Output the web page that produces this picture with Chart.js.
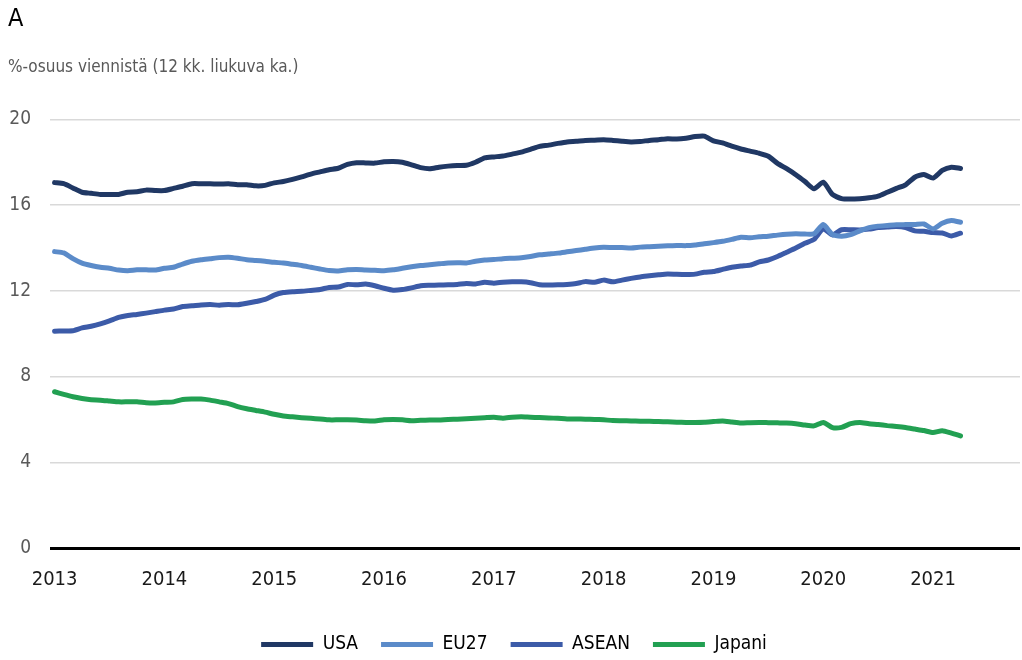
<!DOCTYPE html>
<html>
<head>
<meta charset="utf-8">
<script src="https://cdn.jsdelivr.net/npm/chart.js@4.4.0/dist/chart.umd.min.js"></script>
<style>
  body { margin: 0; background: #fff; }
  #wrap { width: 1022px; height: 660px; position: relative; }
</style>
</head>
<body>
<div id="wrap"><canvas id="chart"></canvas></div>
<script>
// months 2013-01 .. 2021-10 (axis runs a bit past the data)
const months = [];
for (let y = 2013; y <= 2021; y++) {
  for (let m = 1; m <= 12; m++) {
    if (y === 2021 && m > 10) break;
    months.push(y + '-' + String(m).padStart(2, '0'));
  }
}

// %-share of exports, 12 month moving average, 2013-01 .. 2021-04
const usa = [
  17.05, 17.0, 16.8, 16.6, 16.55, 16.5, 16.5, 16.5, 16.6, 16.62, 16.7, 16.68,
  16.68, 16.78, 16.88, 17.0, 17.0, 17.0, 16.98, 17.0, 16.95, 16.95, 16.9, 16.92,
  17.04, 17.1, 17.2, 17.32, 17.45, 17.55, 17.65, 17.72, 17.9, 17.98, 17.97, 17.96,
  18.02, 18.04, 18.0, 17.88, 17.75, 17.7, 17.77, 17.82, 17.85, 17.86, 18.0, 18.2,
  18.25, 18.29, 18.38, 18.47, 18.6, 18.74, 18.8, 18.88, 18.95, 18.98, 19.02, 19.03,
  19.05, 19.02, 18.98, 18.95, 18.97, 19.02, 19.05, 19.1, 19.08, 19.12, 19.2, 19.22,
  19.0, 18.9, 18.75, 18.62, 18.52, 18.42, 18.28, 17.95, 17.7, 17.42, 17.1, 16.76,
  17.07, 16.5, 16.3, 16.28, 16.3, 16.34, 16.42, 16.6, 16.78, 16.95, 17.3, 17.43,
  17.26, 17.62, 17.77, 17.71
];
const eu27 = [
  13.83, 13.77, 13.5, 13.29, 13.18, 13.1, 13.05, 12.97, 12.94, 12.98, 12.98, 12.97,
  13.05, 13.1, 13.25, 13.38, 13.45, 13.5, 13.55, 13.57, 13.52, 13.45, 13.42, 13.38,
  13.33, 13.3, 13.24, 13.18, 13.1, 13.02, 12.95, 12.93, 12.98, 13.0, 12.97, 12.96,
  12.94, 12.98, 13.05, 13.12, 13.18, 13.22, 13.26, 13.3, 13.31, 13.3, 13.38, 13.44,
  13.46, 13.5, 13.52, 13.54, 13.6, 13.68, 13.72, 13.76, 13.82, 13.88, 13.94, 14.0,
  14.03, 14.02, 14.02, 14.0, 14.04, 14.06, 14.08, 14.1, 14.12, 14.11, 14.14, 14.2,
  14.25, 14.31, 14.4, 14.5, 14.48, 14.52, 14.55, 14.6, 14.64, 14.66, 14.65, 14.66,
  15.09, 14.63, 14.55, 14.62, 14.8, 14.95, 15.02, 15.05, 15.08, 15.09, 15.1, 15.12,
  14.89, 15.15, 15.28, 15.2
];
const asean = [
  10.11, 10.13, 10.14, 10.27, 10.35, 10.46, 10.6, 10.76, 10.85, 10.9, 10.96, 11.03,
  11.1, 11.15, 11.27, 11.3, 11.34, 11.36, 11.33, 11.36, 11.35, 11.42, 11.5, 11.6,
  11.8, 11.92, 11.96, 11.98, 12.02, 12.06, 12.16, 12.18, 12.3, 12.28, 12.32, 12.24,
  12.12, 12.03, 12.06, 12.14, 12.24, 12.26, 12.27, 12.28, 12.3, 12.34, 12.32, 12.4,
  12.36, 12.4, 12.42, 12.42, 12.38, 12.28, 12.27, 12.28, 12.3, 12.34, 12.43, 12.4,
  12.5, 12.42, 12.5, 12.58, 12.65, 12.7, 12.75, 12.79, 12.77, 12.76, 12.78, 12.87,
  12.9, 13.0, 13.1, 13.16, 13.2, 13.35, 13.44, 13.6, 13.8, 14.0, 14.22, 14.4,
  14.89, 14.61, 14.85, 14.85, 14.84, 14.88, 14.95, 14.98, 15.0, 14.95, 14.8, 14.78,
  14.72, 14.7, 14.56, 14.69
];
const japani = [
  7.29, 7.17, 7.06, 6.98, 6.92, 6.9, 6.86, 6.82, 6.82, 6.82, 6.78, 6.77,
  6.8, 6.82, 6.93, 6.95, 6.95, 6.9, 6.82, 6.74, 6.6, 6.5, 6.42, 6.34,
  6.24, 6.16, 6.12, 6.08, 6.05, 6.02, 5.98, 5.98, 5.98, 5.97, 5.94, 5.93,
  5.98, 6.0, 5.98, 5.94, 5.96, 5.97, 5.97, 6.0, 6.01, 6.03, 6.06, 6.08,
  6.1, 6.06, 6.1, 6.12, 6.1, 6.09, 6.07, 6.05, 6.02, 6.02, 6.01, 6.0,
  5.98, 5.95, 5.94, 5.93, 5.92, 5.91, 5.9, 5.89, 5.87, 5.86, 5.86, 5.87,
  5.9, 5.93, 5.88, 5.83, 5.85, 5.86, 5.85, 5.84, 5.83, 5.8, 5.74, 5.7,
  5.86, 5.62, 5.63, 5.8, 5.86, 5.8, 5.76, 5.71, 5.67, 5.62, 5.55, 5.48,
  5.39, 5.47, 5.36, 5.23
];

const seriesNames = ['USA', 'EU27', 'ASEAN', 'Japani'];
const seriesColors = ['#203864', '#5b8bc9', '#3c5ba8', '#22a052'];
const seriesData = [usa, eu27, asean, japani];

const FONT = "'DejaVu Sans Condensed', 'DejaVu Sans', sans-serif";

const datasets = seriesNames.map((name, i) => ({
  label: name,
  data: seriesData[i],
  borderColor: seriesColors[i],
  backgroundColor: seriesColors[i],
  borderWidth: 5,
  borderCapStyle: 'round',
  borderJoinStyle: 'round',
  pointRadius: 0,
  tension: 0.2,
  fill: false
}));

new Chart(document.getElementById('chart'), {
  type: 'line',
  data: { labels: months, datasets: datasets },
  options: {
    responsive: true,
    maintainAspectRatio: false,
    animation: false,
    layout: { padding: { left: 8, right: 2, bottom: -4 } },
    plugins: {
      title: {
        display: true,
        text: 'A',
        align: 'start',
        color: '#000',
        font: { family: FONT, size: 25, weight: 'normal' },
        padding: { top: 4, bottom: 18 }
      },
      subtitle: {
        display: true,
        text: '%-osuus viennistä (12 kk. liukuva ka.)',
        align: 'start',
        color: '#595959',
        font: { family: FONT, size: 17 },
        padding: { top: 5, bottom: 42 }
      },
      legend: {
        position: 'bottom',
        labels: {
          usePointStyle: true,
          pointStyle: 'line',
          pointStyleWidth: 52,
          boxHeight: 5,
          padding: 23,
          color: '#000',
          font: { family: FONT, size: 19 }
        }
      },
      tooltip: { enabled: false }
    },
    scales: {
      x: {
        offset: true,
        grid: { display: false, drawTicks: false },
        border: { display: false },
        ticks: {
          autoSkip: false,
          maxRotation: 0,
          padding: 20,
          color: '#1a1a1a',
          font: { family: FONT, size: 20 },
          callback: function (val, i) {
            const lab = months[i];
            return lab.endsWith('-01') ? lab.slice(0, 4) : null;
          }
        }
      },
      y: {
        min: 0,
        max: 20,
        border: { display: false },
        grid: {
          drawTicks: false,
          color: ctx => ctx.tick.value === 0 ? '#000' : '#d9d9d9',
          lineWidth: ctx => ctx.tick.value === 0 ? 3 : 1.5
        },
        ticks: {
          stepSize: 4,
          padding: 19,
          color: '#595959',
          font: { family: FONT, size: 19 }
        },
        afterFit: function (scale) { scale.width = 42; }
      }
    }
  }
});
</script>
</body>
</html>
